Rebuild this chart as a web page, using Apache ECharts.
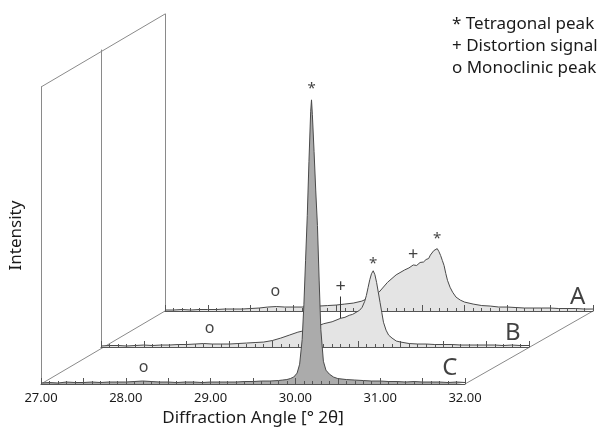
<!DOCTYPE html>
<html><head><meta charset="utf-8">
<script src="https://cdn.jsdelivr.net/npm/echarts@6/dist/echarts.min.js"></script>
<style>html,body{margin:0;padding:0;background:#fff}#c{width:600px;height:432px}</style>
</head><body><div id="c"></div>
<script>
// 2θ sampling positions (degrees)
const angles = [27.0,27.1,27.2,27.3,27.4,27.5,27.6,27.7,27.8,27.9,28.0,28.1,28.2,28.3,28.4,28.5,28.6,28.7,28.8,28.9,29.0,29.1,29.2,29.3,29.4,29.5,29.6,29.7,29.8,
  29.85,29.9,29.94,29.98,30.02,30.05,30.08,30.10,30.12,30.14,30.16,30.18,30.19,30.20,30.22,30.24,30.26,30.28,30.30,30.33,30.36,30.40,30.45,30.50,
  30.6,30.7,30.8,30.9,31.0,31.1,31.2,31.3,31.4,31.5,31.6,31.7,31.8,31.9,32.0];
// intensities (a.u.)
const intensityA = [10,10,15,10,15,15,15,20,20,20,25,30,40,45,40,40,40,45,50,55,60,70,80,100,140,190,290,365,415,
  435,465,460,490,495,520,530,565,585,610,630,630,620,600,560,510,460,380,310,240,190,140,110,90,
  70,55,50,40,40,35,30,30,30,30,25,25,25,20,20];
const intensityB = [10,15,15,10,15,20,15,20,20,25,25,30,35,30,30,30,35,40,45,50,65,90,120,150,170,200,235,255,290,
  300,320,330,350,370,400,460,520,600,680,740,770,760,730,650,550,450,350,250,170,120,90,60,50,
  35,30,30,25,25,25,20,20,20,20,20,15,20,15,15];
const intensityC = [10,15,10,20,15,15,20,15,20,20,20,25,30,25,20,20,15,20,20,15,20,20,20,20,25,25,30,30,35,
  40,45,55,70,110,200,450,800,1250,1700,2250,2750,2870,2720,2350,1950,1600,1050,550,230,140,100,70,55,
  45,40,35,30,30,25,25,20,25,20,20,20,15,20,15];
const sampleNames = ['A','B','C'];
const tickLabels = ['27.00','28.00','29.00','30.00','31.00','32.00'];
// annotations: [text, angle, intensity]
const marksA = [['*',30.18,730],['+',29.90,570],['o',28.29,200],['A',31.82,140]];
const marksB = [['*',30.18,840],['+',29.80,610],['o',28.27,190],['B',31.81,140]];
const marksC = [['*',30.19,2980],['o',28.21,170],['C',31.82,160]];
const distortionLineB = [29.80, 290, 510];
const legendLines = ['* Tetragonal peak','+ Distortion signal','o Monoclinic peak'];

const FONT = 'Noto Sans';
const YMAX = 3000;
const grids = [
  {left:165, top:14, width:428, height:297},
  {left:101, top:50, width:428, height:297},
  {left:37,  top:87, width:428, height:297}
];
const dataSets = [intensityA, intensityB, intensityC];
const markSets = [marksA, marksB, marksC];
const fills = ['#e4e4e4','#e4e4e4','#ababab'];

const xAxes = [], yAxes = [], series = [];
for (let i = 0; i < 3; i++) {
  const front = i === 2;
  xAxes.push({
    type:'value', gridIndex:i, min:27, max:32, interval:0.5, z: 3 + i*2,
    axisLine:{show:true, lineStyle:{color:'#555', width:1}},
    axisTick:{show:true, inside:true, length:6, lineStyle:{color:'#555'}},
    minorTick:{show:true, splitNumber:5, length:3, lineStyle:{color:'#555'}},
    splitLine:{show:false},
    axisLabel: front ? {show:true, margin:8, fontFamily:FONT, fontSize:13, color:'#1a1a1a',
      formatter: v => { const k = Math.round(v - 27); return Math.abs(v - Math.round(v)) < 1e-6 ? tickLabels[k] : ''; }} : {show:false},
    name: front ? 'Diffraction Angle [° 2θ]' : '',
    nameLocation:'middle', nameGap:25,
    nameTextStyle:{fontFamily:FONT, fontSize:17, color:'#1a1a1a'}
  });
  yAxes.push({
    type:'value', gridIndex:i, min:0, max:YMAX, z: 3 + i*2,
    axisLine:{show:true, lineStyle:{color:'#8a8a8a', width:1}},
    axisTick:{show:false}, axisLabel:{show:false}, splitLine:{show:false},
    name: front ? 'Intensity' : '', nameLocation:'middle', nameGap:16,
    nameTextStyle:{fontFamily:FONT, fontSize:17, color:'#1a1a1a'}
  });
  const s = {
    type:'line', xAxisIndex:i, yAxisIndex:i, z: 2 + i*2,
    data: angles.map((a, k) => [a, dataSets[i][k]]),
    showSymbol:false, symbol:'none', smooth:false,
    lineStyle:{color:'#4a4a4a', width:1},
    areaStyle:{color:fills[i], opacity:1},
    silent:true, animation:false
  };
  if (i === 1) {
    s.markLine = {symbol:'none', silent:true, animation:false, label:{show:false},
      lineStyle:{color:'#333', width:1, type:'solid'},
      data:[[{coord:[distortionLineB[0], distortionLineB[1]]},{coord:[distortionLineB[0], distortionLineB[2]]}]]};
  }
  series.push(s);
}
for (let i = 0; i < 3; i++) {
  series.push({
    type:'scatter', xAxisIndex:i, yAxisIndex:i, z:20, symbolSize:0, silent:true, animation:false,
    data: markSets[i].map(m => ({
      value:[m[1], m[2]],
      label:{show:true, position:'inside', formatter:m[0], fontFamily:FONT, color:'#111',
        fontSize: sampleNames.includes(m[0]) ? 24 : (m[0] === 'o' ? 16 : (m[0] === '+' ? 18 : 15))}
    }))
  });
}

const chart = echarts.init(document.getElementById('c'), null, {renderer:'canvas'});
chart.setOption({
  animation:false,
  title:{text: legendLines.join('\n'), left:447, top:8,
    textStyle:{fontFamily:FONT, fontSize:17, fontWeight:'normal', color:'#1a1a1a', lineHeight:22}},
  grid: grids, xAxis: xAxes, yAxis: yAxes, series: series
});
// perspective frame lines joining the three planes
const pA0 = chart.convertToPixel({gridIndex:0}, [27, 0]);
const pAT = chart.convertToPixel({gridIndex:0}, [27, YMAX]);
const pAE = chart.convertToPixel({gridIndex:0}, [32, 0]);
const pC0 = chart.convertToPixel({gridIndex:2}, [27, 0]);
const pCT = chart.convertToPixel({gridIndex:2}, [27, YMAX]);
const pCE = chart.convertToPixel({gridIndex:2}, [32, 0]);
const ls = {stroke:'#8a8a8a', lineWidth:1};
chart.setOption({graphic:[
  {type:'line', z:1, shape:{x1:pCT[0], y1:pCT[1], x2:pAT[0], y2:pAT[1]}, style:ls, silent:true},
  {type:'line', z:1, shape:{x1:pC0[0], y1:pC0[1], x2:pA0[0], y2:pA0[1]}, style:ls, silent:true},
  {type:'line', z:1, shape:{x1:pCE[0], y1:pCE[1], x2:pAE[0], y2:pAE[1]}, style:ls, silent:true}
]});
</script></body></html>
